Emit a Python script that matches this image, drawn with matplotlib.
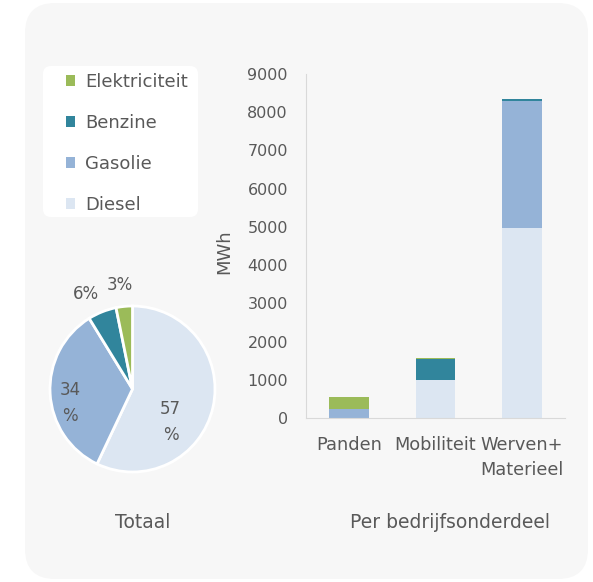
import matplotlib.pyplot as plt
from matplotlib.patches import FancyBboxPatch, Patch
import numpy as np

plt.rcParams['font.family'] = ['DejaVu Sans']

# data (MWh)
categories = ['Panden', 'Mobiliteit', 'Werven+\nMaterieel']
fuels = ['Diesel', 'Gasolie', 'Benzine', 'Elektriciteit']
diesel = [0, 1000, 4970]
gasolie = [245, 0, 3325]
benzine = [0, 540, 45]
elektriciteit = [300, 35, 0]
series = [diesel, gasolie, benzine, elektriciteit]
colors = ['#DCE6F2', '#95B3D7', '#31859C', '#9BBB59']
txt = '#595959'

W, H = 593, 582
fig = plt.figure(figsize=(W / 100, H / 100), dpi=100)
fig.patch.set_facecolor('white')

def px(x0, y0, x1, y1):
    # pixel box (top-left origin) -> figure fraction rect
    return [x0 / W, (H - y1) / H, (x1 - x0) / W, (y1 - y0) / H]

# rounded panel background
fig.patches.append(FancyBboxPatch((0.25, 0.03), 5.63, 5.76,
                                  boxstyle='round,pad=0,rounding_size=0.3',
                                  transform=fig.dpi_scale_trans,
                                  facecolor='#F7F7F7', edgecolor='none', zorder=-2))
# legend box
fig.patches.append(FancyBboxPatch((0.43, (H - 217) / 100), 1.55, 1.51,
                                  boxstyle='round,pad=0,rounding_size=0.08',
                                  transform=fig.dpi_scale_trans,
                                  facecolor='white', edgecolor='none', zorder=-1))

# pie
totals = [sum(s) for s in series]
ax_p = fig.add_axes(px(50, 306, 215, 472))
wedges, _ = ax_p.pie(totals, colors=colors, startangle=90, counterclock=False,
                     wedgeprops=dict(edgecolor='white', linewidth=2))
ax_p.set_xlim(-1, 1)
ax_p.set_ylim(-1, 1)
ax_p.set_aspect('auto')
pct = [round(100 * t / sum(totals)) for t in totals]
pct_txt = [f'{pct[0]}\n%', f'{pct[1]}\n%', f'{pct[2]}%', f'{pct[3]}%']
pct_pos = [(0.46, -0.40), (-0.76, -0.17), (-0.57, 1.14), (-0.15, 1.25)]
for t, (x, y) in zip(pct_txt, pct_pos):
    ax_p.text(x, y, t, ha='center', va='center', fontsize=12, color=txt,
              linespacing=1.6, clip_on=False)

# stacked bars
ax = fig.add_axes(px(306, 74, 565, 418))
ax.set_facecolor('none')
x = np.arange(len(categories))
bottom = np.zeros(len(categories))
for s, c in zip(series, colors):
    ax.bar(x, s, width=0.46, bottom=bottom, color=c)
    bottom += np.array(s)
ax.set_xlim(-0.5, 2.5)
ax.set_ylim(0, 9000)
ax.set_yticks(range(0, 9001, 1000))
ax.set_xticks(x, categories)
ax.tick_params(length=0, labelcolor=txt)
ax.tick_params(axis='y', pad=13, labelsize=11.5)
ax.tick_params(axis='x', pad=13, labelsize=12.8)
for lab in ax.get_xticklabels():
    lab.set_linespacing(1.47)
for sp in ['top', 'right']:
    ax.spines[sp].set_visible(False)
for sp in ['left', 'bottom']:
    ax.spines[sp].set_color('#D9D9D9')
ax.set_ylabel('MWh', fontsize=13, color=txt)
ax.yaxis.set_label_coords(-0.317, 0.483)
ax.yaxis.label.set_va('center')

# legend
handles = [Patch(facecolor=c, label=f) for f, c in zip(fuels, colors)][::-1]
fig.legend(handles=handles, loc='upper left', bbox_to_anchor=(66 / W, 1 - 73 / H),
           frameon=False, fontsize=13, labelcolor=txt, handlelength=0.5,
           handleheight=0.5, handletextpad=0.55, labelspacing=1.27,
           borderpad=0, borderaxespad=0)

fig.text(143 / W, 1 - 522 / H, 'Totaal', ha='center', va='center', fontsize=13.5, color=txt)
fig.text(450 / W, 1 - 522 / H, 'Per bedrijfsonderdeel', ha='center', va='center',
         fontsize=13.5, color=txt)

fig.savefig('out.png', dpi=100)
